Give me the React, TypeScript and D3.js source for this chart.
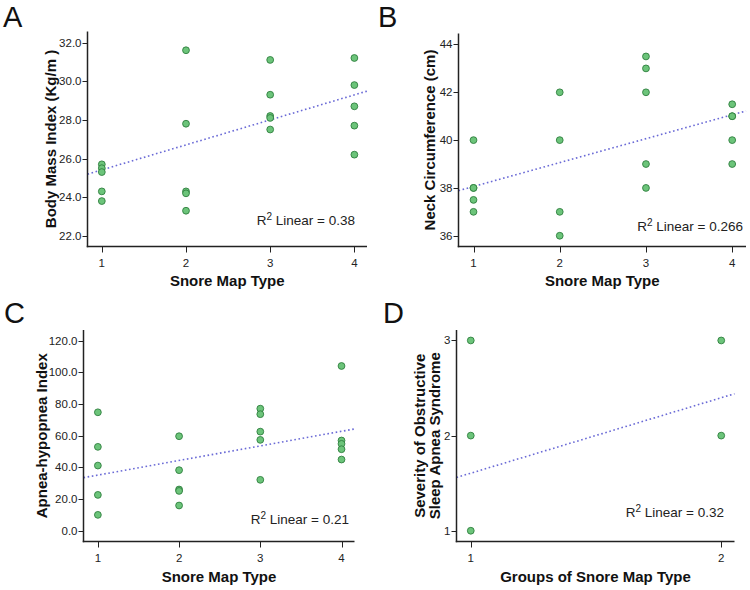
import React from "react";
import * as d3 from "d3";

// ---------- data ----------
const aX = [1, 1, 1, 1, 1, 2, 2, 2, 2, 2, 3, 3, 3, 3, 3, 4, 4, 4, 4, 4];
const aY = [25.7, 25.5, 25.3, 24.3, 23.8, 31.6, 27.8, 24.3, 24.2, 23.3, 31.1, 29.3, 28.2, 28.1, 27.5, 31.2, 29.8, 28.7, 27.7, 26.2];
const aTicks = [22, 24, 26, 28, 30, 32];
const aFit = [24.12, 1.293]; // intercept, slope

const bX = [1, 1, 1, 1, 1, 2, 2, 2, 2, 3, 3, 3, 3, 3, 4, 4, 4, 4, 4];
const bY = [40, 38, 38, 37.5, 37, 42, 40, 37, 36, 43.5, 43, 42, 39, 38, 41.5, 41, 41, 40, 39];
const bTicks = [36, 38, 40, 42, 44];
const bFit = [37.06, 1.0];

const cX = [1, 1, 1, 1, 1, 2, 2, 2, 2, 2, 3, 3, 3, 3, 3, 4, 4, 4, 4, 4];
const cY = [74.8, 53.0, 41.2, 22.7, 10.1, 59.7, 38.3, 26.1, 25.2, 16.0, 77.1, 73.6, 62.6, 57.4, 32.2, 104.0, 57.0, 54.9, 51.5, 45.0];
const cTicks = [0, 20, 40, 60, 80, 100, 120];
const cFit = [26.0, 9.2];

const dX = [1, 1, 1, 2, 2];
const dY = [3, 2, 1, 3, 2];
const dTicks = [1, 2, 3];
const dFit = [0.812, 0.793];

const xTicks4 = [1, 2, 3, 4];
const xTicks2 = [1, 2];

const letters = ["A", "B", "C", "D"];
const yTitles = [["Body Mass Index (Kg/m )"], ["Neck Circumference (cm)"], ["Apnea-hypopnea Index"], ["Severity of Obstructive", "Sleep Apnea Syndrome"]];
const xTitles = ["Snore Map Type", "Snore Map Type", "Snore Map Type", "Groups of Snore Map Type"];
const r2Values = ["0.38", "0.266", "0.21", "0.32"];

// ---------- layout ----------
type Panel = {
  xs: number[]; ys: number[]; yTicks: number[]; xTicks: number[]; fit: number[];
  yFmt: (v: number) => string;
  left: number; right: number; top: number; bottom: number;
  xDom: [number, number]; yDom: [number, number];
  letter: string; letterX: number; letterY: number;
  yTitle: string[]; yTitleX: number; xTitle: string; xTitleY: number;
  r2: string; r2X: number; r2Y: number;
};

const f1 = d3.format(".1f");
const f0 = d3.format("d");

const panels: Panel[] = [
  { xs: aX, ys: aY, yTicks: aTicks, xTicks: xTicks4, fit: aFit, yFmt: f1,
    left: 87.5, right: 367, top: 31.5, bottom: 246.5, xDom: [0.83, 4.15], yDom: [21.45, 32.57],
    letter: letters[0], letterX: 3, letterY: 27, yTitle: yTitles[0], yTitleX: 51, xTitle: xTitles[0], xTitleY: 286,
    r2: r2Values[0], r2X: 355, r2Y: 225 },
  { xs: bX, ys: bY, yTicks: bTicks, xTicks: xTicks4, fit: bFit, yFmt: f0,
    left: 458.5, right: 746, top: 33.5, bottom: 246.5, xDom: [0.826, 4.16], yDom: [35.55, 44.46],
    letter: letters[1], letterX: 378, letterY: 27, yTitle: yTitles[1], yTitleX: 430, xTitle: xTitles[1], xTitleY: 286,
    r2: r2Values[1], r2X: 743, r2Y: 231 },
  { xs: cX, ys: cY, yTicks: cTicks, xTicks: xTicks4, fit: cFit, yFmt: f1,
    left: 83.5, right: 354.5, top: 330, bottom: 541.5, xDom: [0.823, 4.16], yDom: [-6.7, 126.7],
    letter: letters[2], letterX: 4, letterY: 323, yTitle: yTitles[2], yTitleX: 42, xTitle: xTitles[2], xTitleY: 582,
    r2: r2Values[2], r2X: 349, r2Y: 524 },
  { xs: dX, ys: dY, yTicks: dTicks, xTicks: xTicks2, fit: dFit, yFmt: f0,
    left: 456.5, right: 734.5, top: 330, bottom: 541.5, xDom: [0.943, 2.053], yDom: [0.887, 3.11],
    letter: letters[3], letterX: 383, letterY: 323, yTitle: yTitles[3], yTitleX: 420, xTitle: xTitles[3], xTitleY: 582,
    r2: r2Values[3], r2X: 724, r2Y: 517 },
];

const FONT = "Liberation Sans, Arial, Helvetica, sans-serif";
const AXIS = "#222";

function PanelView({ p }: { p: Panel }) {
  const x = d3.scaleLinear().domain(p.xDom).range([p.left, p.right]);
  const y = d3.scaleLinear().domain(p.yDom).range([p.bottom, p.top]);
  const fitLine = d3.line<number>().x((v) => x(v)).y((v) => y(p.fit[0] + p.fit[1] * v));
  const yMid = (p.top + p.bottom) / 2;
  const xMid = (p.left + p.right) / 2;
  return (
    <g>
      <text x={p.letterX} y={p.letterY} fontSize={29} fontFamily={FONT} fill="#111">{p.letter}</text>
      {/* fit line */}
      <path d={fitLine(p.xDom) || ""} fill="none" stroke="#6a6ad6" strokeWidth={1.6} strokeDasharray="1.6,2.6" />
      {/* axes */}
      <line x1={p.left} x2={p.left} y1={p.top} y2={p.bottom + 0.75} stroke={AXIS} strokeWidth={1.5} />
      <line x1={p.left - 0.75} x2={p.right} y1={p.bottom} y2={p.bottom} stroke={AXIS} strokeWidth={1.5} />
      {p.yTicks.map((t) => (
        <g key={"y" + t}>
          <line x1={p.left - 5} x2={p.left} y1={Math.round(y(t)) + 0.5} y2={Math.round(y(t)) + 0.5} stroke={AXIS} strokeWidth={1} />
          <text x={p.left - 6} y={y(t) + 4} textAnchor="end" fontSize={11.5} fontFamily={FONT} fill="#222">{p.yFmt(t)}</text>
        </g>
      ))}
      {p.xTicks.map((t) => (
        <g key={"x" + t}>
          <line x1={Math.round(x(t)) + 0.5} x2={Math.round(x(t)) + 0.5} y1={p.bottom} y2={p.bottom + 6} stroke={AXIS} strokeWidth={1} />
          <text x={x(t)} y={p.bottom + 20} textAnchor="middle" fontSize={11.5} fontFamily={FONT} fill="#222">{t}</text>
        </g>
      ))}
      {/* points */}
      {p.xs.map((xv, i) => (
        <circle key={i} cx={x(xv)} cy={y(p.ys[i])} r={3.4} fill="#6cc47a" stroke="#2f7f3e" strokeWidth={0.9} />
      ))}
      {/* R2 label */}
      <text x={p.r2X} y={p.r2Y} textAnchor="end" fontSize={13.5} fontFamily={FONT} fill="#222">
        R<tspan dy={-5} fontSize={10}>2</tspan><tspan dy={5}> Linear = {p.r2}</tspan>
      </text>
      {/* titles */}
      <text x={xMid} y={p.xTitleY} textAnchor="middle" fontSize={15} fontWeight="bold" fontFamily={FONT} fill="#111">{p.xTitle}</text>
      {p.yTitle.map((line, i) => (
        <text key={i} transform={`translate(${p.yTitleX + i * 15 + 5},${yMid}) rotate(-90)`} textAnchor="middle" fontSize={15} fontWeight="bold" fontFamily={FONT} fill="#111">{line}</text>
      ))}
    </g>
  );
}

export default function App() {
  return (
    <svg width={750} height={590} style={{ position: "absolute", left: 0, top: 0, background: "#fff" }}>
      <rect width={750} height={590} fill="#fff" />
      {panels.map((p, i) => <PanelView key={i} p={p} />)}
    </svg>
  );
}
